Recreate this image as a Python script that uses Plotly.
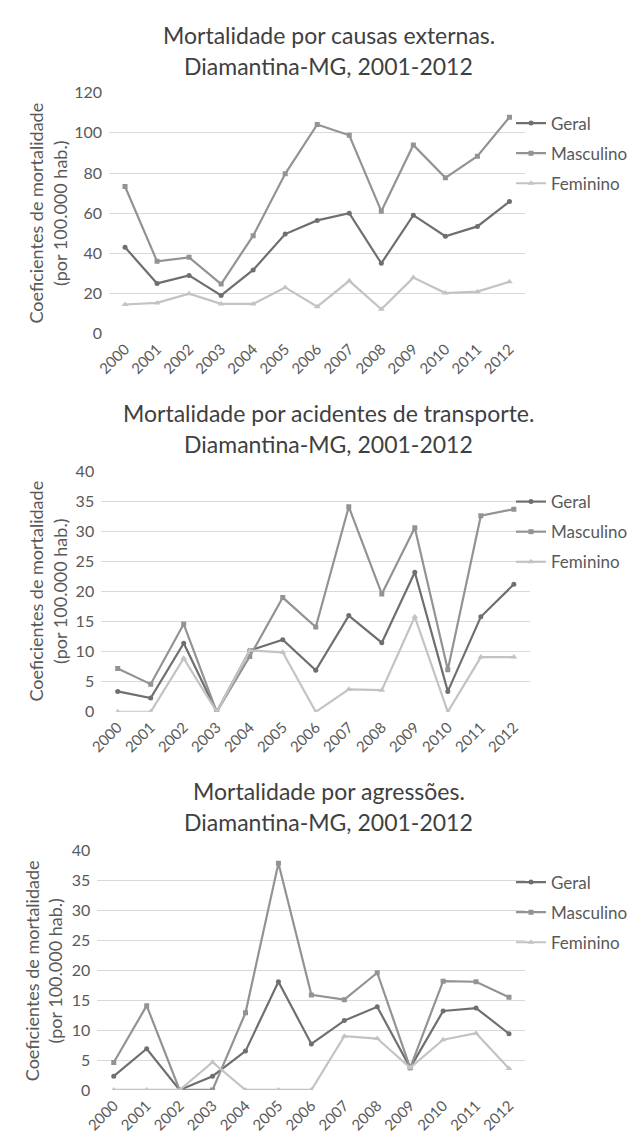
import plotly.graph_objects as go

years = ['2000', '2001', '2002', '2003', '2004', '2005', '2006',
         '2007', '2008', '2009', '2010', '2011', '2012']
series_names = ['Geral', 'Masculino', 'Feminino']

ext_geral = [43.0, 25.0, 29.0, 19.0, 31.7, 49.6, 56.4, 60.0, 35.0, 59.0, 48.5, 53.4, 65.8]
ext_masc = [73.3, 36.0, 38.0, 24.7, 48.8, 79.6, 104.2, 98.8, 61.0, 94.0, 77.6, 88.4, 107.8]
ext_fem = [14.5, 15.3, 19.9, 14.8, 14.8, 23.0, 13.4, 26.3, 12.1, 27.9, 20.2, 20.9, 25.8]

tra_geral = [3.4, 2.3, 11.4, 0, 10.2, 12.0, 6.9, 16.0, 11.5, 23.2, 3.4, 15.8, 21.2]
tra_masc = [7.2, 4.6, 14.6, 0, 9.2, 19.0, 14.1, 34.1, 19.6, 30.6, 7.0, 32.6, 33.7]
tra_fem = [0, 0, 8.9, 0, 10.2, 9.9, 0, 3.75, 3.6, 15.8, 0, 9.1, 9.1]

agr_geral = [2.3, 6.9, 0, 2.3, 6.5, 18.1, 7.7, 11.6, 13.9, 3.7, 13.2, 13.7, 9.4]
agr_masc = [4.6, 14.1, 0, 0, 12.9, 37.9, 15.9, 15.1, 19.6, 3.7, 18.2, 18.1, 15.5]
agr_fem = [0, 0, 0, 4.65, 0, 0, 0, 9.0, 8.6, 3.7, 8.4, 9.5, 3.6]

titles = [
    ['Mortalidade por causas externas.', 'Diamantina-MG, 2001-2012'],
    ['Mortalidade por acidentes de transporte.', 'Diamantina-MG, 2001-2012'],
    ['Mortalidade por agressões.', 'Diamantina-MG, 2001-2012'],
]
y_title = 'Coeficientes de mortalidade<br>(por 100.000 hab.)'
y_ranges = [[0, 120], [0, 40], [0, 40]]
y_dticks = [20, 5, 5]

# the page body has an 8px default margin; the figure is sized to fit inside it
OFF = 8
PAGE_W, PAGE_H = 641, 1146
W, H = PAGE_W - 2 * OFF, PAGE_H - 2 * OFF
FONT = 'Lato, Open Sans, sans-serif'
colors = ['#6f6f6f', '#939393', '#c3c3c3']
symbols = ['circle', 'square', 'triangle-up']

charts = [
    [ext_geral, ext_masc, ext_fem],
    [tra_geral, tra_masc, tra_fem],
    [agr_geral, agr_masc, agr_fem],
]

# layout geometry in page pixels
plot_px = [  # (x0, x1, ytop, ybottom)
    (97, 523, 84, 329),
    (89, 528, 469, 713.7),
    (85, 523, 855, 1098.3),
]
title_y = [(25, 57), (410, 441), (794, 826)]
ytitle_px = [(34, 206.5), (34, 591), (30, 977)]
legend_top = [97, 482, 869]


def fx(px):
    return (px - OFF) / W


def fy(py):
    return 1 - (py - OFF) / H


fig = go.Figure()
for c, data in enumerate(charts):
    ax = '' if c == 0 else str(c + 1)
    leg = 'legend' if c == 0 else 'legend' + str(c + 1)
    for s, vals in enumerate(data):
        fig.add_trace(go.Scatter(
            x=years, y=vals, name=series_names[s], mode='lines+markers',
            line=dict(color=colors[s], width=2.2),
            marker=dict(symbol=symbols[s], size=5 if s != 2 else 6, color=colors[s]),
            xaxis='x' + ax, yaxis='y' + ax, legend=leg,
            legendgroup=f'{c}-{s}',
        ))

layout = dict(
    width=W, height=H, autosize=False,
    margin=dict(l=0, r=0, t=0, b=0),
    paper_bgcolor='white', plot_bgcolor='white',
    font=dict(family=FONT, color='#595959'),
    showlegend=True,
    annotations=[],
)
for c in range(3):
    ax = '' if c == 0 else str(c + 1)
    x0, x1, yt, yb = plot_px[c]
    layout['xaxis' + ax] = dict(
        domain=[fx(x0), fx(x1)], anchor='y' + ax, type='category',
        range=[-0.5, 12.5], tickangle=-45, showgrid=False, showline=False,
        zeroline=False, ticks='', tickfont=dict(size=15, color='#595959'),
        ticklabelstandoff=3,
    )
    layout['yaxis' + ax] = dict(
        domain=[fy(yb), fy(yt)], anchor='x' + ax,
        range=y_ranges[c], dtick=y_dticks[c], showgrid=True,
        gridcolor='#d9d9d9', gridwidth=1, zeroline=False, showline=False,
        ticks='', tickfont=dict(size=16, color='#595959'), ticklabelstandoff=6,
    )
    leg = 'legend' if c == 0 else 'legend' + str(c + 1)
    layout[leg] = dict(
        x=1.0, y=fy(legend_top[c]), xanchor='right', yanchor='top',
        font=dict(size=17, color='#595959', family=FONT),
        bgcolor='rgba(0,0,0,0)', itemwidth=30, tracegroupgap=5,
    )
    for i, line in enumerate(titles[c]):
        layout['annotations'].append(dict(
            text=line, x=fx(322), y=fy(title_y[c][i]), xref='paper', yref='paper',
            xanchor='center', yanchor='middle', showarrow=False,
            font=dict(size=23, color='#404040', family=FONT),
        ))
    tx, ty = ytitle_px[c]
    layout['annotations'].append(dict(
        text=y_title, x=fx(tx), y=fy(ty), xref='paper', yref='paper',
        xanchor='center', yanchor='middle', showarrow=False, textangle=-90,
        font=dict(size=18, color='#595959', family=FONT),
    ))

fig.update_layout(layout)
fig.write_html('out.html')
